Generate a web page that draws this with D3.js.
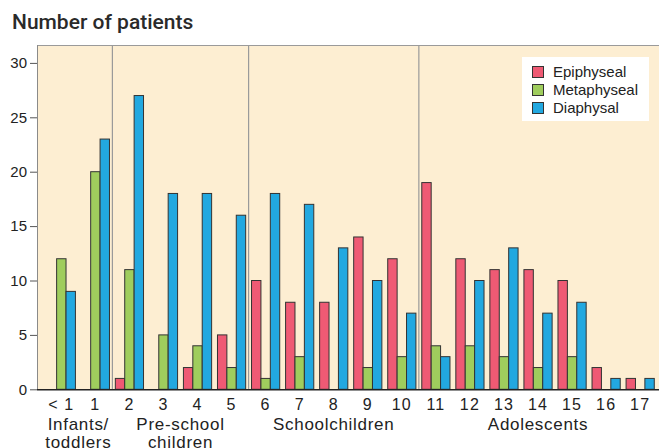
<!DOCTYPE html>
<html><head><meta charset="utf-8">
<script src="https://cdn.jsdelivr.net/npm/d3@7"></script>
<style>
html,body{margin:0;padding:0;background:#fff;}
svg{display:block;font-family:"Liberation Sans",Arial,sans-serif;}
</style></head>
<body>
<svg id="chart" width="659" height="448"></svg>
<script>
const categories = ["< 1","1","2","3","4","5","6","7","8","9","10","11","12","13","14","15","16","17"];
const seriesNames = ["Epiphyseal","Metaphyseal","Diaphysal"];
const epiphyseal  = [0,0,1,0,2,5,10,8,8,14,12,19,12,11,11,10,2,1];
const metaphyseal = [12,20,11,5,4,2,1,3,0,2,3,4,4,3,2,3,0,0];
const diaphysal   = [9,23,27,18,18,16,18,17,13,10,7,3,10,13,7,8,1,1];
const yTicks = [0,5,10,15,20,25,30];
const groups = [
  {lines:["Infants/","toddlers"], from:"< 1", to:"1"},
  {lines:["Pre-school","children"], from:"2", to:"5"},
  {lines:["Schoolchildren"], from:"6", to:"10"},
  {lines:["Adolescents"], from:"11", to:"17"}
];
const colors = ["#ef5a74","#9fcd5d","#22a8e0"];

const svg = d3.select("#chart");
const plotL = 37, plotR = 659, plotT = 45, plotB = 389.3;

const y = d3.scaleLinear().domain([0,30]).range([plotB, 62.9]);
const x0 = d3.scaleBand().domain(categories).range([44.3, 657.2]).paddingInner(0.172).paddingOuter(0.086);
const x1 = d3.scaleBand().domain(seriesNames).range([0, x0.bandwidth()]);

// background
svg.append("rect").attr("x",plotL).attr("y",plotT).attr("width",plotR-plotL).attr("height",plotB-plotT).attr("fill","#fdeed2");

// top border
svg.append("line").attr("x1",plotL).attr("x2",plotR).attr("y1",plotT+0.5).attr("y2",plotT+0.5).attr("stroke","#9a9a9a").attr("stroke-width",1);

// dividers
const half = x0.step()*x0.paddingInner()/2;
["2","6","11"].forEach(c=>{
  const xx = x0(c) - half;
  svg.append("line").attr("x1",xx).attr("x2",xx).attr("y1",plotT).attr("y2",plotB).attr("stroke","#9a9a9a").attr("stroke-width",1.2);
});

// y axis
const yAxis = d3.axisLeft(y).tickValues(yTicks).tickSize(7).tickPadding(3);
const ya = svg.append("g").attr("transform",`translate(${plotL},0)`).call(yAxis);
ya.select(".domain").remove();
ya.selectAll(".tick line").attr("stroke","#555");
ya.selectAll(".tick text").attr("font-size",15).attr("fill","#222").attr("font-family","Liberation Sans, Arial, sans-serif");
svg.append("line").attr("x1",plotL+0.5).attr("x2",plotL+0.5).attr("y1",plotT).attr("y2",plotB).attr("stroke","#8a8a8a").attr("stroke-width",1);

// bars
const data = categories.map((c,i)=>({cat:c, vals:[epiphyseal[i],metaphyseal[i],diaphysal[i]]}));
const g = svg.append("g");
data.forEach(d=>{
  d.vals.forEach((v,j)=>{
    if(v<=0) return;
    g.append("rect")
      .attr("x", x0(d.cat)+x1(seriesNames[j]))
      .attr("y", y(v))
      .attr("width", x1.bandwidth())
      .attr("height", y(0)-y(v))
      .attr("fill", colors[j])
      .attr("stroke","#333").attr("stroke-width",1);
  });
});

// x axis
const xAxis = d3.axisBottom(x0).tickSize(0).tickPadding(9);
const xa = svg.append("g").attr("transform",`translate(0,${plotB})`).call(xAxis);
xa.select(".domain").attr("d",`M${plotL},0.5H${plotR}`).attr("stroke","#222").attr("stroke-width",1.5);
xa.selectAll(".tick text").attr("font-size",16).attr("fill","#222").attr("letter-spacing","1.2px").attr("font-family","Liberation Sans, Arial, sans-serif");

// group labels
groups.forEach(gr=>{
  const cx = (x0(gr.from) + x0(gr.to) + x0.bandwidth())/2;
  gr.lines.forEach((t,k)=>{
    svg.append("text").attr("x",cx).attr("y",430+k*18).attr("text-anchor","middle")
      .attr("font-size",17).attr("letter-spacing","0.7px").attr("fill","#222").text(t);
  });
});

// title
svg.append("text").attr("x",12).attr("y",29).attr("font-size",21).attr("font-weight",500)
  .attr("font-family","Roboto, 'Liberation Sans', sans-serif").attr("fill","#2a2a2a").text("Number of patients");

// legend
const lg = svg.append("g");
lg.append("rect").attr("x",522).attr("y",57).attr("width",127).attr("height",64).attr("fill","#fff");
seriesNames.forEach((s,i)=>{
  const cy = 72 + i*18;
  lg.append("rect").attr("x",532.5).attr("y",cy-5.5).attr("width",11).attr("height",11).attr("fill",colors[i]).attr("stroke","#333").attr("stroke-width",1);
  lg.append("text").attr("x",553).attr("y",cy+5.3).attr("font-size",15).attr("fill","#222").text(s);
});
</script>
</body></html>
